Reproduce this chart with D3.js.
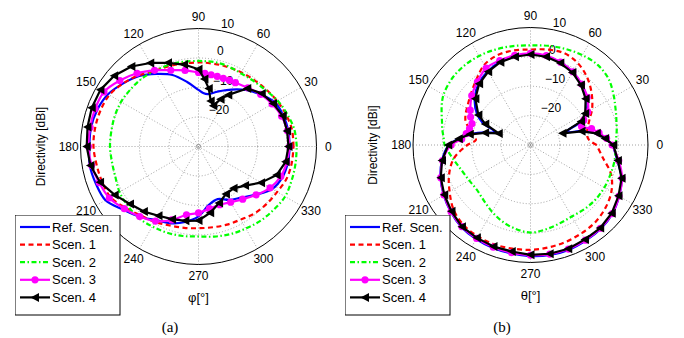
<!DOCTYPE html>
<html>
<head>
<meta charset="utf-8">
<script src="https://cdn.jsdelivr.net/npm/d3@7"></script>
<style>
  body { margin: 0; background: #fff; }
  svg { display: block; font-family: "Liberation Sans", Arial, sans-serif; }
</style>
</head>
<body>
<svg id="chart" width="684" height="338"></svg>
<script>
// legend names
const seriesNames = ['Ref. Scen.', 'Scen. 1', 'Scen. 2', 'Scen. 3', 'Scen. 4'];

// (a) azimuth cut, directivity in dBi
const anglesPhi = [0, 10, 20, 30, 40, 50, 60, 65, 70, 75, 80, 85, 90, 100, 110, 120, 130, 140, 150, 160, 170, 180,
  190, 200, 210, 220, 230, 240, 250, 260, 270, 280, 290, 300, 310, 320, 330, 340, 350, 360];
const refPhi = [0.9, 0.9, 0.6, -0.1, -2.6, -5, -7.7, -9, -10.1, -11.2, -12, -11.8, -10.8, -7.8, -4.2, -1.6, 1.2, 3.3, 5.4, 6.5, 7, 7,
  7.4, 7, 6.4, 3.3, 1.1, -1.2, -2.3, -4, -6.3, -9.9, -11, -9.1, -7.4, -4.6, -1.2, 0.3, 0.8, 0.9];
const scen1Phi = [2.2, 2.2, 1.6, 0.8, 0, -0.6, -1, -1.2, -1.3, -1.4, -1.5, -1.5, -1.5, -1.4, -1, -0.4, 1.5, 3.3, 4.9, 5.4, 5.6, 5.6,
  5.1, 4.8, 4.4, 2.3, 0.5, -0.5, -1.5, -2, -2.3, -2.2, -1.8, -1.4, -0.4, 0.2, 0.8, 1.8, 2.1, 2.2];
const scen2Phi = [3.3, 3, 2, 1, -0.3, -1, -1.3, -1.2, -1, -0.9, -0.9, -1, -1, -0.8, -0.6, -0.4, 0, 0.1, 0.3, 0.2, 0, 0,
  -0.2, 0, 0.9, 1.3, 1.6, 1.3, 1.1, 0.8, 0.5, 1, 1.6, 2.1, 2.8, 3.3, 3.9, 3.6, 3.4, 3.3];
const scen3Phi = [0.85, 0.6, 0, -1.2, -2.5, -4, -5, -5.2, -5.4, -5.4, -5.3, -5.1, -4.9, -3.8, -2.5, -0.2, 2.4, 4.8, 7, 7.3, 7.3, 7.3,
  6.8, 5.8, 4.9, 2.8, 1, -0.8, -3.5, -6.5, -7.5, -8.6, -9, -8.2, -6.7, -4.5, -2, -0.3, 0.4, 0.85];
const scen4Phi = [0.5, 0.5, 0.4, -0.8, -2, -4.3, -9.8, -12.3, -15.3, -14, -10, -7, -3.8, -1.8, 0.2, 2.7, 5.4, 7.3, 8.4, 8.5, 8.2, 7.9,
  7.2, 5.5, 2.8, 0.3, -1.2, -2.9, -3.8, -4.4, -4.9, -7.2, -9.6, -11.4, -11.5, -9.4, -5.5, -1.8, 0, 0.5];

// (b) elevation cut, directivity in dBi
const anglesTheta = [0, 5, 10, 15, 20, 25, 30, 40, 50, 60, 70, 80, 90, 100, 110, 120, 130, 140, 150, 155, 160, 165, 170, 175,
  180, 190, 200, 210, 220, 230, 240, 250, 260, 270, 280, 290, 300, 310, 320, 330, 340, 350, 360];
const refTheta = [-2, -4.5, -7.5, -11.5, -17, -11, -8, -5, -3, -1.3, -0.1, 0.7, 1, 0.7, 0.2, -1, -2.6, -5.2, -9, -12, -17, -13.5, -9, -5.5,
  -2.2, 0.6, 2.6, 4.1, 5.4, 6.5, 7, 7.3, 7.5, 7.8, 8, 8, 7.6, 7.2, 6.4, 4.8, 3, 0, -2];
const scen1Theta = [-7.5, -10, -10.5, -10, -9, -7.6, -5.8, -2.8, 0, 2.2, 3.3, 3, 2.5, 2.7, 2.6, 1.5, -1.2, -3.4, -5, -5.6, -6.5, -8.5, -10.5, -11.3,
  -8.5, -3.5, -0.5, 1.8, 4.2, 5.5, 5.9, 6, 5.8, 5.7, 5.4, 5.1, 4.7, 4.3, 3.3, 1.8, -0.8, -5, -7.5];
const scen2Theta = [-1, -0.7, -0.2, 0.3, 1, 1.8, 2.8, 4.8, 5.6, 5.3, 4.8, 4.3, 3.9, 4.2, 4.6, 5, 5.2, 5, 4.2, 3.3, 2.2, 1.2, 0.5, -0.3,
  -0.8, -3.2, -5, -5.9, -6.2, -5.3, -3.8, -2.2, -1, -0.2, -0.8, -1.5, -1.9, -1.5, -1.1, -1, -1, -0.9, -1];
const scen3Theta = [-2.2, -4, -6.3, -8.5, -11.5, -10, -7.5, -4.8, -2.9, -1.2, 0, 0.9, 1.2, 1, 0.6, 0.2, -1.9, -3.9, -6.3, -7.5, -8.8, -8.5, -7.8, -6.5,
  -3, 0.4, 2.5, 4, 5.3, 6.3, 6.7, 7, 7.2, 7.5, 7.7, 7.7, 7.4, 7, 6.3, 4.8, 3.2, 0.5, -2.2];
const scen4Theta = [-1.8, -4.5, -7.1, -12, -18.4, -11, -8.5, -5.5, -3.3, -1.5, -0.3, 0.5, 0.8, 0.5, 0, -1.2, -2.8, -5.5, -9.5, -13, -18.5, -14, -9, -5.5,
  -2, 0.6, 2.5, 3.9, 5.1, 6.3, 6.5, 6.8, 6.8, 7.4, 7.6, 7.6, 7.1, 6.9, 6.1, 4.6, 3, 0.2, -1.8];

// axis ticks
const angleTicks = [0, 30, 60, 90, 120, 150, 180, 210, 240, 270, 300, 330];
const radialTicks = [-20, -10, 0, 10];
const radialDomain = [-30, 10];

// line styles, in legend order
const styles = [
  {color: '#0000ff', dash: null, smooth: true, marker: null},
  {color: '#ff0000', dash: '5,3.5', smooth: true, marker: null},
  {color: '#00ff00', dash: '5,2.5,1.5,2.5', smooth: true, marker: null},
  {color: '#ff00ff', dash: null, smooth: true, marker: 'circle'},
  {color: '#000000', dash: null, smooth: false, marker: 'triangle'}
];

const svg = d3.select('#chart');
const rad = a => a * Math.PI / 180;

function drawPanel(opts) {
  const {cx, cy, R, angles, series, axisLabel, caption, capX, legX} = opts;
  const r = d3.scaleLinear().domain(radialDomain).range([0, R]).clamp(true);
  const root = svg.append('g');
  const g = root.append('g').attr('transform', `translate(${cx},${cy})`);

  // white disc + grid
  g.append('circle').attr('r', R).attr('fill', '#fff');
  angleTicks.filter(a => a < 180).forEach(a => {
    g.append('line')
      .attr('x1', -R * Math.cos(rad(a))).attr('y1', R * Math.sin(rad(a)))
      .attr('x2', R * Math.cos(rad(a))).attr('y2', -R * Math.sin(rad(a)))
      .attr('stroke', '#8c8c8c').attr('stroke-width', 0.8).attr('stroke-dasharray', '1,2');
  });
  radialTicks.slice(0, -1).forEach(t => {
    g.append('circle').attr('r', r(t)).attr('fill', 'none')
      .attr('stroke', '#8c8c8c').attr('stroke-width', 0.8).attr('stroke-dasharray', '1,2');
  });
  g.append('circle').attr('r', 2).attr('fill', 'none').attr('stroke', '#8c8c8c').attr('stroke-width', 0.8);
  g.append('circle').attr('r', R).attr('fill', 'none').attr('stroke', '#000').attr('stroke-width', 1);

  // radial tick labels at 82 deg
  radialTicks.forEach(t => {
    const rr = r(t + 0.5);
    g.append('text')
      .attr('x', rr * Math.cos(rad(82)) + 6).attr('y', -rr * Math.sin(rad(82)) - 2)
      .attr('font-size', 12).attr('fill', '#000')
      .text(t < 0 ? '\u2212' + Math.abs(t) : t);
  });

  // angle labels
  angleTicks.forEach(a => {
    g.append('text')
      .attr('x', 1.1 * R * Math.cos(rad(a))).attr('y', -1.1 * R * Math.sin(rad(a)))
      .attr('text-anchor', 'middle').attr('dominant-baseline', 'central')
      .attr('font-size', 12).text(a);
  });

  // curves
  series.forEach((vals, i) => {
    const st = styles[i];
    const pts = angles.map((a, k) => ({a: a, v: vals[k]}));
    const line = d3.line()
      .x(d => r(d.v) * Math.cos(rad(d.a)))
      .y(d => -r(d.v) * Math.sin(rad(d.a)))
      .curve(st.smooth ? d3.curveCatmullRom.alpha(0.5) : d3.curveLinear);
    g.append('path').datum(pts).attr('d', line)
      .attr('fill', 'none').attr('stroke', st.color).attr('stroke-width', 2.2)
      .attr('stroke-dasharray', st.dash).attr('stroke-linejoin', 'round');
    const mk = pts.slice(0, -1);
    if (st.marker === 'circle') {
      g.selectAll(null).data(mk).join('circle')
        .attr('cx', d => r(d.v) * Math.cos(rad(d.a)))
        .attr('cy', d => -r(d.v) * Math.sin(rad(d.a)))
        .attr('r', 3.6).attr('fill', st.color);
    } else if (st.marker === 'triangle') {
      g.selectAll(null).data(mk).join('path')
        .attr('transform', d => `translate(${r(d.v) * Math.cos(rad(d.a))},${-r(d.v) * Math.sin(rad(d.a))})`)
        .attr('d', 'M-4.5,0L4,-4.5L4,4.5Z').attr('fill', st.color);
    }
  });

  // axis labels
  root.append('text').attr('x', cx).attr('y', cy + 1.1 * R + 26)
    .attr('text-anchor', 'middle').attr('font-size', 13).text(axisLabel);
  root.append('text')
    .attr('transform', `translate(${cx - R - 36},${cy}) rotate(-90)`)
    .attr('text-anchor', 'middle').attr('font-size', 12).text('Directivity [dBi]');
  root.append('text').attr('x', capX).attr('y', 332)
    .attr('text-anchor', 'middle').attr('font-family', '"Liberation Serif", "Times New Roman", serif')
    .attr('font-size', 15).text(caption);

  // legend, cut off at figure bottom
  const clipId = 'clip' + Math.round(cx);
  root.append('clipPath').attr('id', clipId)
    .append('rect').attr('x', 0).attr('y', 0).attr('width', 684).attr('height', 301);
  const lg = root.append('g').attr('clip-path', `url(#${clipId})`)
    .attr('transform', `translate(${legX},215)`);
  lg.append('rect').attr('width', 105).attr('height', 100)
    .attr('fill', '#fff').attr('stroke', '#000').attr('stroke-width', 1);
  seriesNames.forEach((name, i) => {
    const st = styles[i];
    const y = 12 + i * 17.6;
    lg.append('line').attr('x1', 5).attr('x2', 35).attr('y1', y).attr('y2', y)
      .attr('stroke', st.color).attr('stroke-width', 2.2).attr('stroke-dasharray', st.dash);
    if (st.marker === 'circle') lg.append('circle').attr('cx', 20).attr('cy', y).attr('r', 3.6).attr('fill', st.color);
    if (st.marker === 'triangle') lg.append('path').attr('transform', `translate(20,${y})`)
      .attr('d', 'M-4.5,0L4,-4.5L4,4.5Z').attr('fill', st.color);
    lg.append('text').attr('x', 37).attr('y', y).attr('dominant-baseline', 'central')
      .attr('font-size', 13).text(name);
  });
}

drawPanel({cx: 198.5, cy: 146.5, R: 118, angles: anglesPhi,
  series: [refPhi, scen1Phi, scen2Phi, scen3Phi, scen4Phi],
  axisLabel: 'φ[°]', caption: '(a)', capX: 170, legX: 15});
drawPanel({cx: 530.5, cy: 145, R: 117.5, angles: anglesTheta,
  series: [refTheta, scen1Theta, scen2Theta, scen3Theta, scen4Theta],
  axisLabel: 'θ[°]', caption: '(b)', capX: 502, legX: 345});
</script>
</body>
</html>
